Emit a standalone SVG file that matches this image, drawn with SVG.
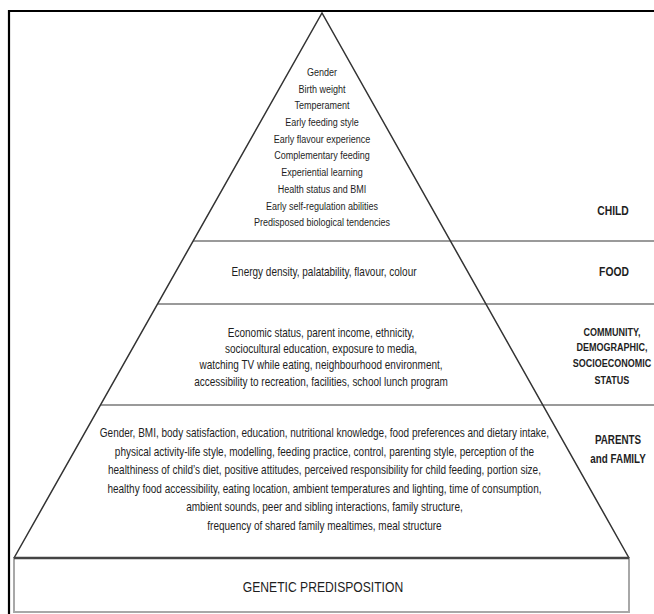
<svg xmlns="http://www.w3.org/2000/svg" width="654" height="614" viewBox="0 0 654 614">
<style>
.t{font-family:"Liberation Sans",Arial,sans-serif;fill:#1e1e1e;text-anchor:middle}
.c{font-size:11px}
.m{font-size:12.2px}
.b{font-weight:bold}
.frame{stroke:#000;stroke-width:2.2;fill:none}
.side{stroke:#333;stroke-width:1.5;fill:none}
.div{stroke:#9a9a9a;stroke-width:2;fill:none}
.base{stroke:#444;stroke-width:2.5;fill:none}
.box{stroke:#a8a8a8;stroke-width:2;fill:#fff}
</style>
<rect width="654" height="614" fill="#fff"/>
<g id="frame">
<path class="frame" d="M9 614 V11 H654"/>
</g>
<g id="genetic-box">
<rect class="box" x="14" y="558" width="615" height="54"/>
<g transform="scale(0.82 1)"><text class="t" x="393.9" y="592" style="font-size:14.8px">GENETIC PREDISPOSITION</text></g>
</g>
<g id="connectors">
<path class="div" d="M193.2 241 H654 M157.6 304 H654 M100.5 405 H654"/>
<path class="side" d="M14 558 L322 13 L629 558"/>
<path class="base" d="M14 558 H629"/>
</g>
<g id="tier-child" transform="scale(0.82 1)">
<text class="t c" x="392.7" y="76">Gender</text>
<text class="t c" x="392.7" y="92.7">Birth weight</text>
<text class="t c" x="392.7" y="109.4">Temperament</text>
<text class="t c" x="392.7" y="126">Early feeding style</text>
<text class="t c" x="392.7" y="142.8">Early flavour experience</text>
<text class="t c" x="392.7" y="159.5">Complementary feeding</text>
<text class="t c" x="392.7" y="176.2">Experiential learning</text>
<text class="t c" x="392.7" y="192.9">Health status and BMI</text>
<text class="t c" x="392.7" y="209.6">Early self-regulation abilities</text>
<text class="t c" x="392.7" y="226.3">Predisposed biological tendencies</text>
</g>
<g id="tier-food" transform="scale(0.82 1)">
<text class="t m" x="395.1" y="276">Energy density, palatability, flavour, colour</text>
</g>
<g id="tier-community" transform="scale(0.82 1)">
<text class="t m" x="391.5" y="337.5">Economic status, parent income, ethnicity,</text>
<text class="t m" x="391.5" y="353">sociocultural education, exposure to media,</text>
<text class="t m" x="391.5" y="369.5">watching TV while eating, neighbourhood environment,</text>
<text class="t m" x="391.5" y="386">accessibility to recreation, facilities, school lunch program</text>
</g>
<g id="tier-parents" transform="scale(0.82 1)">
<text class="t m" x="395.7" y="437.5">Gender, BMI, body satisfaction, education, nutritional knowledge, food preferences and dietary intake,</text>
<text class="t m" x="395.7" y="456">physical activity-life style, modelling, feeding practice, control, parenting style, perception of the</text>
<text class="t m" x="395.7" y="474.5">healthiness of child’s diet, positive attitudes, perceived responsibility for child feeding, portion size,</text>
<text class="t m" x="395.7" y="493">healthy food accessibility, eating location, ambient temperatures and lighting, time of consumption,</text>
<text class="t m" x="395.7" y="511.5">ambient sounds, peer and sibling interactions, family structure,</text>
<text class="t m" x="395.7" y="530">frequency of shared family mealtimes, meal structure</text>
</g>
<g id="labels" transform="scale(0.82 1)">
<text class="t b" x="747.6" y="215" style="font-size:12.6px">CHILD</text>
<text class="t b" x="748.8" y="276.5" style="font-size:12.6px">FOOD</text>
<text class="t b" x="746.3" y="336" style="font-size:11px">COMMUNITY,</text>
<text class="t b" x="746.3" y="351.5" style="font-size:11px">DEMOGRAPHIC,</text>
<text class="t b" x="746.3" y="367.5" style="font-size:11px">SOCIOECONOMIC</text>
<text class="t b" x="746.3" y="384" style="font-size:11px">STATUS</text>
<text class="t b" x="753.7" y="444.5" style="font-size:12px">PARENTS</text>
<text class="t b" x="753.7" y="463.5" style="font-size:12px">and FAMILY</text>
</g>
</svg>
